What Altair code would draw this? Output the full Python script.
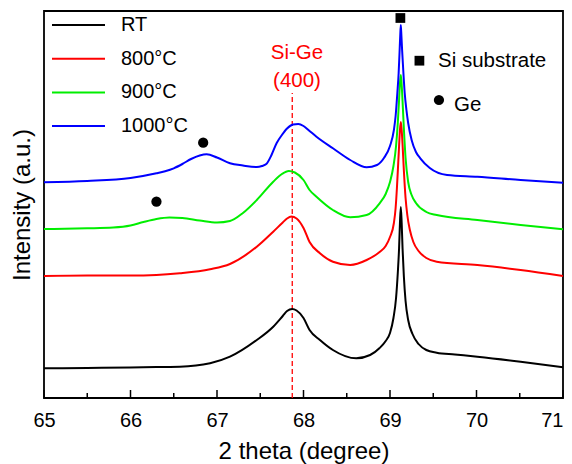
import altair as alt
import pandas as pd

FONT = "Liberation Sans"

series = ["RT", "800°C", "900°C", "1000°C"]
colors = ["#000000", "#ff0000", "#00ee00", "#0000ff"]

rt_x = [65.0, 65.5, 66.0, 66.3, 66.57, 66.92, 67.15, 67.46, 67.65, 67.76, 67.81, 67.87, 67.92, 68.0,
        68.07, 68.19, 68.34, 68.61, 68.77, 68.88, 68.95, 69.0, 69.04, 69.07, 69.09, 69.105, 69.115,
        69.125, 69.135, 69.145, 69.16, 69.18, 69.21, 69.26, 69.33, 69.42, 69.54, 69.75, 70.01, 70.51, 71.0]
rt_y = [29.7, 30, 30.5, 31, 31.3, 34.7, 41.3, 58, 71.3, 82, 87, 89, 87.5, 80,
        68, 58, 48, 39.7, 43, 50, 57, 65, 80, 100, 125, 150, 175,
        191, 175, 150, 122, 97, 78, 64, 54, 48, 45.3, 43.5, 41.3, 36.3, 30.7]

c800_x = [65.0, 65.5, 66.0, 66.3, 66.57, 66.92, 67.15, 67.46, 67.65, 67.76, 67.81, 67.86, 67.92, 68.0,
          68.07, 68.19, 68.34, 68.54, 68.73, 68.88, 68.95, 69.0, 69.045, 69.065, 69.08, 69.095, 69.105,
          69.115, 69.125, 69.135, 69.145, 69.16, 69.18, 69.2, 69.23, 69.27, 69.33, 69.42, 69.54, 70.01,
          70.51, 71.0]
c800_y = [122, 122.5, 122.5, 123, 124.7, 128.7, 134, 151.3, 166.3, 175.5, 179.5, 181.5, 179.5, 170,
          156, 144.7, 136.3, 133, 138, 146, 152, 161, 175, 190, 210, 235, 252,
          268, 276, 268, 254, 228, 200, 183, 168, 156, 147, 140, 136.3, 133,
          128, 122]

c900_x = [65.0, 65.5, 65.8, 66.0, 66.15, 66.3, 66.45, 66.6, 66.8, 67.0, 67.15, 67.3, 67.46, 67.65,
          67.75, 67.83, 67.9, 68.0, 68.07, 68.15, 68.34, 68.54, 68.73, 68.88, 68.95, 69.0, 69.04,
          69.07, 69.09, 69.105, 69.115, 69.125, 69.135, 69.145, 69.16, 69.18, 69.21, 69.25, 69.3,
          69.42, 69.54, 70.01, 70.51, 71.0]
c900_y = [169, 169.7, 170.5, 172.5, 176, 179, 180.5, 180, 177.5, 175.5, 177, 185, 198, 216.3,
          224, 227, 225.5, 218, 208, 201.3, 188, 180.7, 183, 194.7, 204, 216, 232,
          252, 275, 298, 315, 323, 313, 297, 270, 240, 216, 203, 195,
          186, 183, 178, 173, 168.7]

c1000_x = [65.0, 65.5, 66.0, 66.3, 66.4, 66.5, 66.6, 66.7, 66.8, 66.88, 67.0, 67.15, 67.3, 67.46,
           67.52, 67.57, 67.63, 67.69, 67.75, 67.81, 67.88, 67.94, 68.0, 68.07, 68.15, 68.34, 68.54,
           68.73, 68.85, 68.93, 69.0, 69.045, 69.065, 69.085, 69.1, 69.11, 69.118, 69.125, 69.132,
           69.14, 69.155, 69.17, 69.19, 69.21, 69.25, 69.3, 69.35, 69.46, 69.66, 70.01, 70.51, 71.0]
c1000_y = [215.7, 217, 220, 224.7, 226.8, 229.7, 234, 239, 242.5, 243.7, 240.5, 234.7, 232.5, 231,
           232, 234, 243, 255, 263, 269.5, 273.5, 274, 272, 267, 261.3, 249.7, 238,
           230.7, 233, 240, 252, 268, 282, 305, 325, 345, 362, 373, 362,
           348, 325, 305, 288, 275, 258, 246, 239.7, 230, 223, 221.3, 218, 215.3]

major_ticks = [65, 66, 67, 68, 69, 70, 71]
minor_ticks = [65.5, 66.5, 67.5, 68.5, 69.5, 70.5]

sige_x = 67.87
sige_top = 305
sige_text_x = 67.925
sige_labels = ["Si-Ge", "(400)"]
sige_label_y = [345.3, 317]

square_x = [69.12, 69.34]
square_y = [380, 337.3]
circle_x = [66.30, 66.84, 69.566]
circle_y = [196.3, 255.3, 298]
note_text = ["Si substrate", "Ge"]
note_x = [69.555, 69.74]
note_y = [337, 293.5]

rows = []
for name, xs, ys in [(series[0], rt_x, rt_y), (series[1], c800_x, c800_y),
                     (series[2], c900_x, c900_y), (series[3], c1000_x, c1000_y)]:
    for i, (a, b) in enumerate(zip(xs, ys)):
        rows.append({"series": name, "theta": a, "intensity": b, "idx": i})
df = pd.DataFrame(rows)

xscale = alt.Scale(domain=[65, 71], nice=False, zero=False)
yscale = alt.Scale(domain=[0, 387], nice=False, zero=False)

legend_path = "M-2.944,0H2.944"

lines = alt.Chart(df).mark_line(strokeWidth=2, interpolate="monotone").encode(
    x=alt.X("theta:Q", scale=xscale,
            axis=alt.Axis(values=major_ticks, format="d", ticks=False, labelPadding=12,
                          labelFlush=False, labelOverlap=False, titlePadding=9,
                          labelAlign={"condition": {"test": "datum.value == 71", "value": "right"},
                                      "value": "center"},
                          labelFontSize=20, titleFontSize=24),
            title="2 theta (degree)"),
    y=alt.Y("intensity:Q", scale=yscale,
            axis=alt.Axis(labels=False, ticks=False, titlePadding=10, titleFontSize=24),
            title="Intensity (a.u.)"),
    color=alt.Color("series:N", scale=alt.Scale(domain=series, range=colors),
                    legend=alt.Legend(title=None, orient="none", legendX=24.5, legendY=4,
                                      symbolType=legend_path, symbolSize=324,
                                      symbolStrokeWidth=2, labelFontSize=20, labelFont=FONT,
                                      labelOffset=32.5, rowPadding=13.7, padding=0,
                                      labelColor="black")),
    order="idx:Q",
    detail="series:N",
)

rule_df = pd.DataFrame({"x": [sige_x], "y": [0], "y2": [sige_top]})
dashed = alt.Chart(rule_df).mark_rule(color="#ff0000", strokeDash=[5, 3], strokeWidth=1.3).encode(
    x=alt.X("x:Q", scale=xscale), y=alt.Y("y:Q", scale=yscale), y2="y2:Q")

sq_df = pd.DataFrame({"x": square_x, "y": square_y})
squares = alt.Chart(sq_df).mark_point(shape="square", filled=True, size=95, color="black", opacity=1).encode(
    x=alt.X("x:Q", scale=xscale), y=alt.Y("y:Q", scale=yscale))

ci_df = pd.DataFrame({"x": circle_x, "y": circle_y})
circles = alt.Chart(ci_df).mark_point(shape="circle", filled=True, size=105, color="black", opacity=1).encode(
    x=alt.X("x:Q", scale=xscale), y=alt.Y("y:Q", scale=yscale))

nt_df = pd.DataFrame({"x": note_x, "y": note_y, "t": note_text})
notes = alt.Chart(nt_df).mark_text(align="left", baseline="middle", fontSize=20.5, font=FONT, color="black").encode(
    x=alt.X("x:Q", scale=xscale), y=alt.Y("y:Q", scale=yscale), text="t:N")

sg_df = pd.DataFrame({"x": [sige_text_x] * 2, "y": sige_label_y, "t": sige_labels})
sige = alt.Chart(sg_df).mark_text(align="center", baseline="middle", fontSize=20.5, font=FONT, color="#ff0000").encode(
    x=alt.X("x:Q", scale=xscale), y=alt.Y("y:Q", scale=yscale), text="t:N")

mj_df = pd.DataFrame({"x": major_ticks})
major = alt.Chart(mj_df).mark_rule(color="black", strokeWidth=1.5).encode(
    x=alt.X("x:Q", scale=xscale), y=alt.value(387), y2=alt.value(379))
mn_df = pd.DataFrame({"x": minor_ticks})
minor = alt.Chart(mn_df).mark_rule(color="black", strokeWidth=1.5).encode(
    x=alt.X("x:Q", scale=xscale), y=alt.value(387), y2=alt.value(382))

chart = alt.layer(dashed, lines, squares, circles, notes, sige, major, minor).properties(
    width=519, height=387,
    padding={"left": 36, "top": 3, "right": 1, "bottom": 66},
    autosize=alt.AutoSizeParams(type="none"),
).configure_view(stroke="black", strokeWidth=1.8).configure_axis(
    domain=False, grid=False, labelFont=FONT, titleFont=FONT, labelColor="black",
    titleColor="black", titleFontWeight="normal"
).configure_legend(labelFont=FONT)

chart.save("out.html", embed_options={"renderer": "svg", "actions": False})
